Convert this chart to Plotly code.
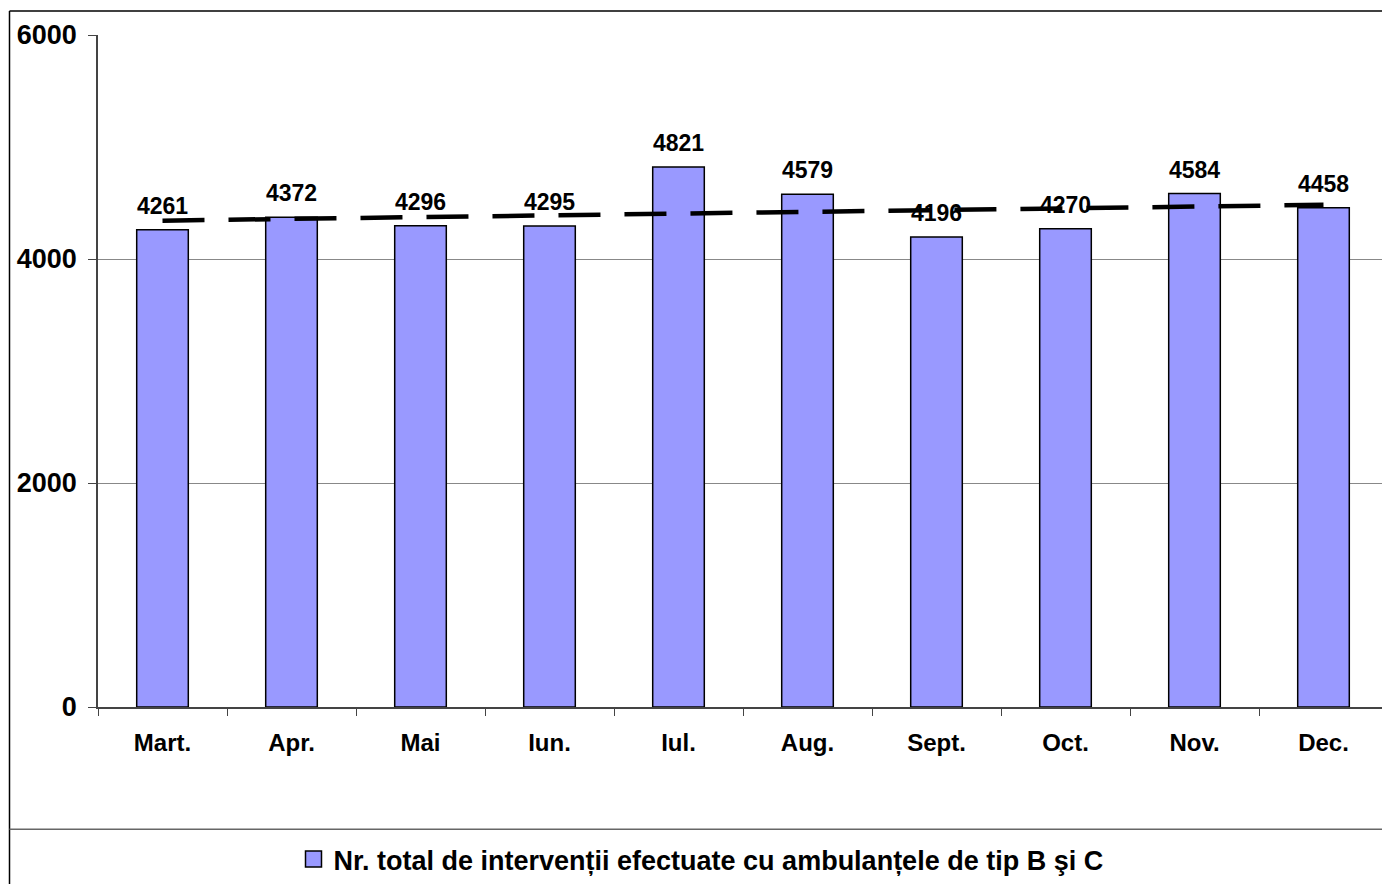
import numpy as np
import plotly.graph_objects as go

categories = ["Mart.", "Apr.", "Mai", "Iun.", "Iul.", "Aug.", "Sept.", "Oct.", "Nov.", "Dec."]
values = [4261, 4372, 4296, 4295, 4821, 4579, 4196, 4270, 4584, 4458]
y_ticks = [0, 2000, 4000, 6000]
series_name = "Nr. total de intervenții efectuate cu ambulanțele de tip B şi C"

W, H = 1382, 884
L, R, T, B = 98, 0, 35, 176
PW, PH = W - L - R, H - T - B

def px2x(px):
    return (px - L) / PW

def px2y(py):
    return (H - B - py) / PH

FONT = "Liberation Sans, Arial, sans-serif"
BAR_COLOR = "#9999FF"

# linear trendline (least squares fit of the bar values, as the original chart's trendline)
idx = np.arange(len(values))
slope, intercept = np.polyfit(idx, values, 1)
trend_y = [intercept + slope * idx[0], intercept + slope * idx[-1]]

fig = go.Figure()
fig.add_trace(go.Bar(
    x=categories, y=values, width=0.4,
    marker=dict(color=BAR_COLOR, line=dict(color="black", width=1.5)),
    showlegend=False, hoverinfo="x+y",
))
fig.add_trace(go.Scatter(
    x=[categories[0], categories[-1]], y=trend_y, mode="lines",
    line=dict(color="black", width=4.5, dash="42px,24px"),
    showlegend=False, hoverinfo="skip",
))
# legend entry
fig.add_trace(go.Scatter(
    x=[None], y=[None], mode="markers", name=series_name,
    marker=dict(symbol="square", size=18, color=BAR_COLOR, line=dict(color="black", width=1.5)),
))

for c, v in zip(categories, values):
    fig.add_annotation(
        x=c, y=v, text=str(v), showarrow=False, yanchor="bottom", yshift=9,
        font=dict(family=FONT, size=23, color="black", weight="bold"),
    )

line_kw = dict(type="line", xref="paper", yref="paper", layer="above")
fig.add_shape(x0=px2x(9.5), x1=px2x(W + 5), y0=px2y(11), y1=px2y(11),
              line=dict(color="black", width=1.5), **line_kw)
fig.add_shape(x0=px2x(9.5), x1=px2x(9.5), y0=px2y(11), y1=px2y(H + 5),
              line=dict(color="black", width=1.5), **line_kw)
fig.add_shape(x0=px2x(9.5), x1=px2x(W + 5), y0=px2y(830.5), y1=px2y(830.5),
              line=dict(color="#666666", width=1.5), **line_kw)

fig.update_layout(
    width=W, height=H,
    margin=dict(l=L, r=R, t=T, b=B, pad=0),
    paper_bgcolor="white", plot_bgcolor="white",
    font=dict(family=FONT, color="black"),
    xaxis=dict(
        type="category", range=[-0.5, -0.5 + PW / 129.0],
        tickson="boundaries", ticks="outside", ticklen=7, tickcolor="#444",
        showline=True, linecolor="#444", linewidth=1.5,
        showgrid=False, tickfont=dict(family=FONT, size=24, weight="bold"),
        ticklabelstandoff=13,
    ),
    yaxis=dict(
        range=[0, 6000], tickvals=y_ticks, ticktext=[str(t) for t in y_ticks],
        ticks="outside", ticklen=8, tickcolor="#444",
        showline=True, linecolor="#444", linewidth=1.5,
        showgrid=True, gridcolor="#888888", gridwidth=1.2, zeroline=False,
        tickfont=dict(family=FONT, size=27, weight="bold"),
        ticklabelstandoff=6,
    ),
    legend=dict(
        orientation="h", x=px2x(701), xanchor="center", y=px2y(861), yanchor="middle",
        font=dict(family=FONT, size=27, weight="bold"),
        bgcolor="rgba(0,0,0,0)", itemsizing="trace",
    ),
    bargap=0.6,
)

fig.write_html("out.html", config={"displayModeBar": False},
               post_script="document.body.style.margin='0';")
